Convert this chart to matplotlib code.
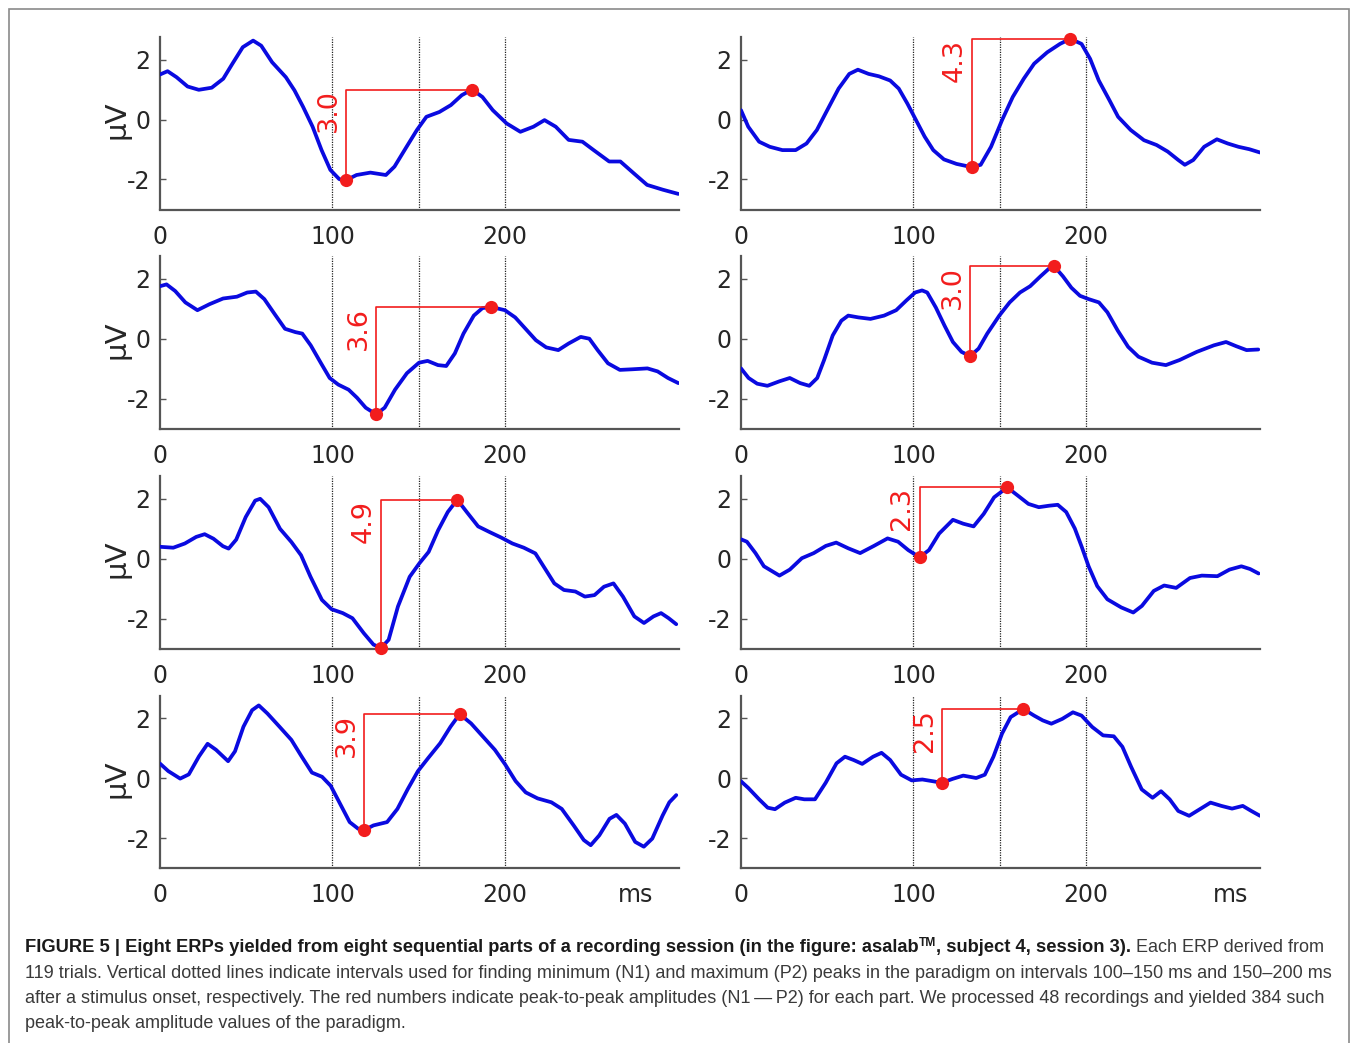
import matplotlib
matplotlib.use("Agg")
import matplotlib.pyplot as plt
from matplotlib import font_manager
from matplotlib.patches import Rectangle

# ---------------- data ----------------
t1 = [0, 4.4, 9.6, 16, 22.5, 30, 36.7, 42, 48, 54, 58.7, 65, 73, 78, 83, 88.5, 93.7, 98.8, 104, 108, 114, 122,
      131, 136, 143, 149, 154.5, 162, 168.7, 175, 181, 187, 193, 201, 209, 216.6, 223, 229.5, 237, 245, 251.5,
      260.5, 267, 274.7, 282.5, 291.6, 300.6]
v1 = [1.50, 1.61, 1.41, 1.10, 0.99, 1.06, 1.36, 1.86, 2.41, 2.63, 2.46, 1.91, 1.41, 0.97, 0.42, -0.24, -1.02, -1.68,
      -1.99, -2.02, -1.85, -1.77, -1.85, -1.57, -0.91, -0.35, 0.09, 0.25, 0.48, 0.81, 1.0, 0.75, 0.31, -0.13, -0.41,
      -0.24, -0.02, -0.24, -0.68, -0.74, -1.02, -1.40, -1.40, -1.79, -2.18, -2.34, -2.48]

t2 = [0, 4.2, 10.5, 16.7, 24, 31.7, 38, 44, 50, 56.6, 62.8, 67.8, 74, 80, 86.5, 91.5, 96.5, 101.5, 106.5, 111.5,
      117.7, 125, 134, 139, 145, 151.4, 157.6, 164, 170, 177.6, 185, 191, 197.5, 202.5, 207.5, 213.7, 218.7, 226,
      233.7, 241, 247.5, 253.6, 257.4, 262.3, 268.6, 276, 282.3, 288.5, 294.8, 301]
v2 = [0.31, -0.24, -0.74, -0.91, -1.02, -1.02, -0.80, -0.35, 0.31, 1.03, 1.52, 1.66, 1.52, 1.44, 1.30, 1.03, 0.53,
      -0.02, -0.57, -1.02, -1.33, -1.48, -1.59, -1.51, -0.91, -0.02, 0.75, 1.36, 1.86, 2.24, 2.52, 2.69, 2.52, 2.02,
      1.30, 0.64, 0.09, -0.35, -0.69, -0.85, -1.07, -1.35, -1.51, -1.35, -0.91, -0.66, -0.80, -0.91, -0.99, -1.10]

t3 = [0, 3.8, 8.8, 14.7, 21.7, 28.7, 36.6, 44.6, 50.6, 55.6, 60.5, 66.5, 72.5, 78.5, 82.5, 87.4, 93.4, 98.4, 103.4,
      109.4, 114.3, 119.3, 125.3, 130.3, 136.3, 143.2, 150.2, 155.2, 161.2, 166, 171, 176, 182, 187, 192, 200, 206,
      212, 218, 224, 231, 237, 244, 249, 253.8, 259.8, 266.7, 273.7, 282.7, 288.6, 294.6, 300.6]
v3 = [1.76, 1.82, 1.60, 1.22, 0.96, 1.16, 1.35, 1.41, 1.55, 1.58, 1.33, 0.83, 0.34, 0.23, 0.18, -0.21, -0.81, -1.30,
      -1.52, -1.69, -1.96, -2.29, -2.51, -2.29, -1.69, -1.14, -0.79, -0.73, -0.87, -0.90, -0.48, 0.18, 0.78, 1.03,
      1.07, 0.96, 0.72, 0.34, -0.04, -0.28, -0.37, -0.15, 0.07, 0.01, -0.37, -0.81, -1.03, -1.01, -0.98, -1.08,
      -1.30, -1.47]

t4 = [0, 4.4, 9.4, 15.3, 22.3, 28.3, 34.3, 39.6, 44.2, 48.2, 53.2, 58.2, 62.2, 68.1, 75.1, 83, 90, 96, 101, 105,
      108, 113, 118, 122.9, 127.9, 132.9, 137.8, 142.8, 149.8, 155.8, 161.8, 167.7, 173.7, 178.7, 181.7, 186.7,
      191.6, 196.6, 201.6, 207.6, 212.5, 218.5, 224.5, 230.5, 238.4, 246.4, 254.4, 264.3, 274.3, 281.3, 287.2,
      293.2, 300]
v4 = [-0.98, -1.30, -1.49, -1.56, -1.41, -1.30, -1.47, -1.56, -1.30, -0.70, 0.12, 0.61, 0.78, 0.72, 0.67, 0.78,
      0.96, 1.29, 1.55, 1.62, 1.55, 1.05, 0.45, -0.10, -0.43, -0.57, -0.32, 0.18, 0.78, 1.22, 1.55, 1.76, 2.09,
      2.35, 2.42, 2.09, 1.71, 1.44, 1.33, 1.22, 0.89, 0.28, -0.26, -0.59, -0.79, -0.87, -0.70, -0.43, -0.21,
      -0.10, -0.24, -0.37, -0.35]

t5 = [0, 7.7, 14.4, 21, 25.9, 31, 36.5, 39.8, 44.2, 49.7, 55.2, 58.1, 63, 69.6, 76.2, 81.8, 87.3, 93.9, 99.5, 106,
      111.6, 118.2, 123.8, 128.2, 132.6, 138, 144.8, 150.3, 155.8, 161.3, 166.9, 172.4, 177.9, 184.5, 191.2, 197.8,
      204.4, 211, 217.7, 223.2, 228.7, 234.3, 240.9, 246.4, 252, 257.5, 263, 268.5, 275.1, 280.7, 286.2, 290.6,
      295, 299.4]
v5 = [0.39, 0.36, 0.50, 0.72, 0.81, 0.66, 0.41, 0.33, 0.63, 1.38, 1.93, 1.99, 1.71, 0.99, 0.55, 0.11, -0.61, -1.38,
      -1.69, -1.82, -1.99, -2.49, -2.87, -2.98, -2.71, -1.60, -0.61, -0.17, 0.22, 0.94, 1.55, 1.96, 1.55, 1.07,
      0.88, 0.70, 0.50, 0.36, 0.17, -0.33, -0.83, -1.05, -1.10, -1.27, -1.22, -0.94, -0.83, -1.27, -1.93, -2.15,
      -1.93, -1.82, -1.99, -2.19]

t6 = [0, 3.4, 8.4, 13.3, 22.3, 28.3, 35.3, 42.2, 49.2, 55.2, 62.2, 69.1, 77.1, 85, 91.1, 97, 103.6, 109, 114.9,
      122.9, 128.9, 134.9, 140.8, 146.8, 154.4, 160.7, 166.7, 172.7, 178.7, 183.7, 188.6, 193.6, 197.6, 201.6,
      206.6, 212.5, 220.5, 227.5, 232.5, 239.4, 245.4, 252.4, 260.4, 267.3, 276.3, 283.3, 290.2, 295.2, 300.2]
v6 = [0.64, 0.56, 0.18, -0.26, -0.57, -0.37, 0.01, 0.18, 0.42, 0.53, 0.34, 0.18, 0.42, 0.67, 0.56, 0.28, 0.04,
      0.28, 0.83, 1.29, 1.16, 1.07, 1.49, 2.04, 2.37, 2.09, 1.82, 1.71, 1.76, 1.79, 1.55, 1.00, 0.39, -0.26, -0.92,
      -1.36, -1.63, -1.80, -1.58, -1.08, -0.90, -0.98, -0.65, -0.57, -0.59, -0.37, -0.26, -0.35, -0.50]

t7 = [0, 4.8, 11.7, 16.7, 22.6, 27.6, 32.5, 39.5, 43.5, 48.4, 53.4, 57.3, 62.3, 69.3, 76.2, 82.1, 88.1, 94, 99, 104,
      110, 114.9, 118.3, 123.8, 131.7, 137.7, 143.7, 149.6, 155.6, 162.5, 168.5, 173.8, 180.4, 187.3, 194.2, 200.2,
      206.2, 212.1, 219, 227, 233, 239.9, 245.8, 249.8, 254.8, 260.7, 264.7, 269.6, 275.6, 280.6, 285.5, 291.5,
      295.4, 299.4]
v7 = [0.48, 0.23, -0.02, 0.12, 0.72, 1.14, 0.94, 0.56, 0.89, 1.71, 2.26, 2.42, 2.15, 1.71, 1.27, 0.72, 0.18, 0.04,
      -0.26, -0.81, -1.47, -1.69, -1.74, -1.58, -1.47, -1.03, -0.37, 0.23, 0.67, 1.16, 1.71, 2.13, 1.82, 1.38,
      0.94, 0.45, -0.10, -0.48, -0.68, -0.81, -1.03, -1.58, -2.07, -2.24, -1.91, -1.36, -1.23, -1.52, -2.13,
      -2.29, -2.02, -1.25, -0.81, -0.57]

t8 = [0, 4.2, 10.5, 15.5, 19.7, 25.4, 31.7, 36.7, 42.9, 49.1, 55.4, 60.3, 65.3, 70.3, 76.6, 81.5, 86.5, 92.8, 99,
      105.2, 111.5, 116.5, 122.7, 128.9, 136.4, 141.4, 146.4, 151.4, 156.4, 163.8, 170, 175, 180, 186.3, 192.5,
      197.5, 203.7, 210, 216.2, 221.2, 226.2, 232.4, 238.7, 243.6, 248.6, 253.6, 259.9, 266.1, 272.3, 278.6,
      284.8, 291, 296, 301]
v8 = [-0.11, -0.33, -0.71, -0.99, -1.04, -0.82, -0.66, -0.71, -0.71, -0.16, 0.49, 0.71, 0.60, 0.47, 0.71, 0.84,
      0.60, 0.11, -0.08, -0.05, -0.11, -0.16, -0.03, 0.08, 0.0, 0.11, 0.71, 1.48, 2.03, 2.30, 2.08, 1.92, 1.81,
      1.97, 2.19, 2.08, 1.70, 1.42, 1.39, 1.04, 0.38, -0.38, -0.66, -0.44, -0.71, -1.10, -1.26, -1.04, -0.82,
      -0.93, -1.02, -0.93, -1.10, -1.26]

times = [t1, t2, t3, t4, t5, t6, t7, t8]
values = [v1, v2, v3, v4, v5, v6, v7, v8]

n1_t = [108, 134, 125.3, 132.9, 128.2, 103.6, 118.3, 116.5]
n1_v = [-2.02, -1.59, -2.51, -0.57, -2.98, 0.04, -1.74, -0.16]
p2_t = [181, 191, 192, 181.7, 172.4, 154.4, 173.8, 163.8]
p2_v = [1.0, 2.69, 1.07, 2.42, 1.96, 2.37, 2.13, 2.30]
amp_labels = ["3.0", "4.3", "3.6", "3.0", "4.9", "2.3", "3.9", "2.5"]

interval_bounds = [100, 150, 200]
x_ticks = [0, 100, 200]
y_ticks = [-2, 0, 2]
y_unit = "µV"
x_unit = "ms"

caption_bold = "FIGURE 5 | Eight ERPs yielded from eight sequential parts of a recording session (in the figure: asalab"
caption_sup = "TM"
caption_bold2 = ", subject 4, session 3)."
caption_line1_rest = "Each ERP derived from"
caption_lines = [
    "119 trials. Vertical dotted lines indicate intervals used for finding minimum (N1) and maximum (P2) peaks in the paradigm on intervals 100\u2013150 ms and 150\u2013200 ms",
    "after a stimulus onset, respectively. The red numbers indicate peak-to-peak amplitudes (N1\u2009\u2014\u2009P2) for each part. We processed 48 recordings and yielded 384 such",
    "peak-to-peak amplitude values of the paradigm.",
]

# ---------------- layout ----------------
W, H = 1355, 1043
fig = plt.figure(figsize=(W / 100, H / 100), dpi=100)
fig.patch.set_facecolor("white")

col_left_px = [160, 741]
ax_w_px = 519
row_bottom_px = [209.5, 429, 648.5, 868]
ax_h_px = 172.5

TICK_COLOR = "#262626"
SPINE_COLOR = "#555555"
BLUE = "#0a0ae0"
RED = "#f21d1d"

for i in range(8):
    r, c = divmod(i, 2)
    left = col_left_px[c] / W
    bottom = 1 - row_bottom_px[r] / H
    ax = fig.add_axes([left, bottom, ax_w_px / W, ax_h_px / H])
    ax.set_xlim(0, 301)
    ax.set_ylim(-3, 2.75)
    for s in ["top", "right"]:
        ax.spines[s].set_visible(False)
    for s in ["left", "bottom"]:
        ax.spines[s].set_color(SPINE_COLOR)
        ax.spines[s].set_linewidth(1.6)
    ax.set_xticks(x_ticks)
    ax.set_yticks(y_ticks)
    ax.set_xticklabels([str(v) for v in x_ticks])
    ax.set_yticklabels([str(v) for v in y_ticks])
    ax.tick_params(axis="x", direction="in", length=0, pad=11, labelsize=17, labelcolor=TICK_COLOR)
    ax.tick_params(axis="y", direction="in", length=4, width=1, color=SPINE_COLOR, pad=7,
                   labelsize=17, labelcolor=TICK_COLOR)

    for xb in interval_bounds:
        ax.axvline(xb, color="#222222", lw=0.9, ls=(0, (1, 1)), zorder=1)

    ax.plot(times[i], values[i], color=BLUE, lw=2.7, solid_joinstyle="round", solid_capstyle="round", zorder=3)

    ax.plot([n1_t[i], n1_t[i], p2_t[i]], [n1_v[i], p2_v[i], p2_v[i]], color=RED, lw=1.2, zorder=4, clip_on=False)
    ax.plot([n1_t[i], p2_t[i]], [n1_v[i], p2_v[i]], "o", color=RED, ms=9.5, zorder=5, clip_on=False,
            markeredgewidth=0)
    ax.annotate(amp_labels[i], xy=(n1_t[i], p2_v[i]), xytext=(-3, 0), textcoords="offset points",
                rotation=90, ha="right", va="top", color=RED, fontsize=19.5, zorder=6)

    if c == 0:
        ax.text(-0.056, 0.52, y_unit, transform=ax.transAxes, rotation=90, ha="right", va="center",
                fontsize=21, color=TICK_COLOR)
    if r == 3:
        ms_x = 276 if c == 0 else 284
        ax.annotate(x_unit, xy=(ms_x, 0), xycoords=("data", "axes fraction"), xytext=(0, -11),
                    textcoords="offset points", ha="center", va="top", fontsize=17, color=TICK_COLOR)

# border frame
fig.patches.append(Rectangle((9 / W, -0.01), (1349 - 9) / W, 1 - 9 / H + 0.01, transform=fig.transFigure,
                             fill=False, edgecolor="#8a8a8a", lw=1.2))

# ---------------- caption ----------------
avail = {f.name for f in font_manager.fontManager.ttflist}
cap_family = "Liberation Sans" if "Liberation Sans" in avail else "DejaVu Sans"
renderer = fig.canvas.get_renderer()


def txt_width(s, **kw):
    t = fig.text(0, 0, s, **kw)
    w = t.get_window_extent(renderer).width
    t.remove()
    return w


cap_size = 10 * (1331 - 25) / txt_width(caption_lines[0], fontsize=10, family=cap_family)

REG = "#3a3a3a"
BOLD = "#1a1a1a"
x0 = 25
baselines = [952, 977.5, 1003, 1028.5]

space_reg = (txt_width("a a", fontsize=cap_size, family=cap_family)
             - txt_width("aa", fontsize=cap_size, family=cap_family))
rest_w = txt_width(caption_line1_rest, fontsize=cap_size, family=cap_family)
bold_target = (1331 - 25) - rest_w - space_reg
bold_w10 = (txt_width(caption_bold, fontsize=10, family=cap_family, fontweight="bold")
            + txt_width(caption_sup, fontsize=6.5, family=cap_family, fontweight="bold")
            + txt_width(caption_bold2, fontsize=10, family=cap_family, fontweight="bold"))
bold_size = 10 * bold_target / bold_w10

x = x0
pieces = [(caption_bold, "bold", 0, bold_size, BOLD, 0),
          (caption_sup, "bold", 6, bold_size * 0.65, BOLD, 0),
          (caption_bold2, "bold", 0, bold_size, BOLD, space_reg),
          (caption_line1_rest, "normal", 0, cap_size, REG, 0)]
for s, wt, dy, sz, col, gap in pieces:
    t = fig.text(x / W, 1 - (baselines[0] - dy) / H, s, fontsize=sz, fontweight=wt,
                 family=cap_family, color=col, ha="left", va="baseline")
    x += t.get_window_extent(renderer).width + gap

for k, line in enumerate(caption_lines):
    fig.text(x0 / W, 1 - baselines[k + 1] / H, line, fontsize=cap_size, family=cap_family, color=REG,
             ha="left", va="baseline")

fig.savefig("out.png", dpi=100, facecolor="white")
